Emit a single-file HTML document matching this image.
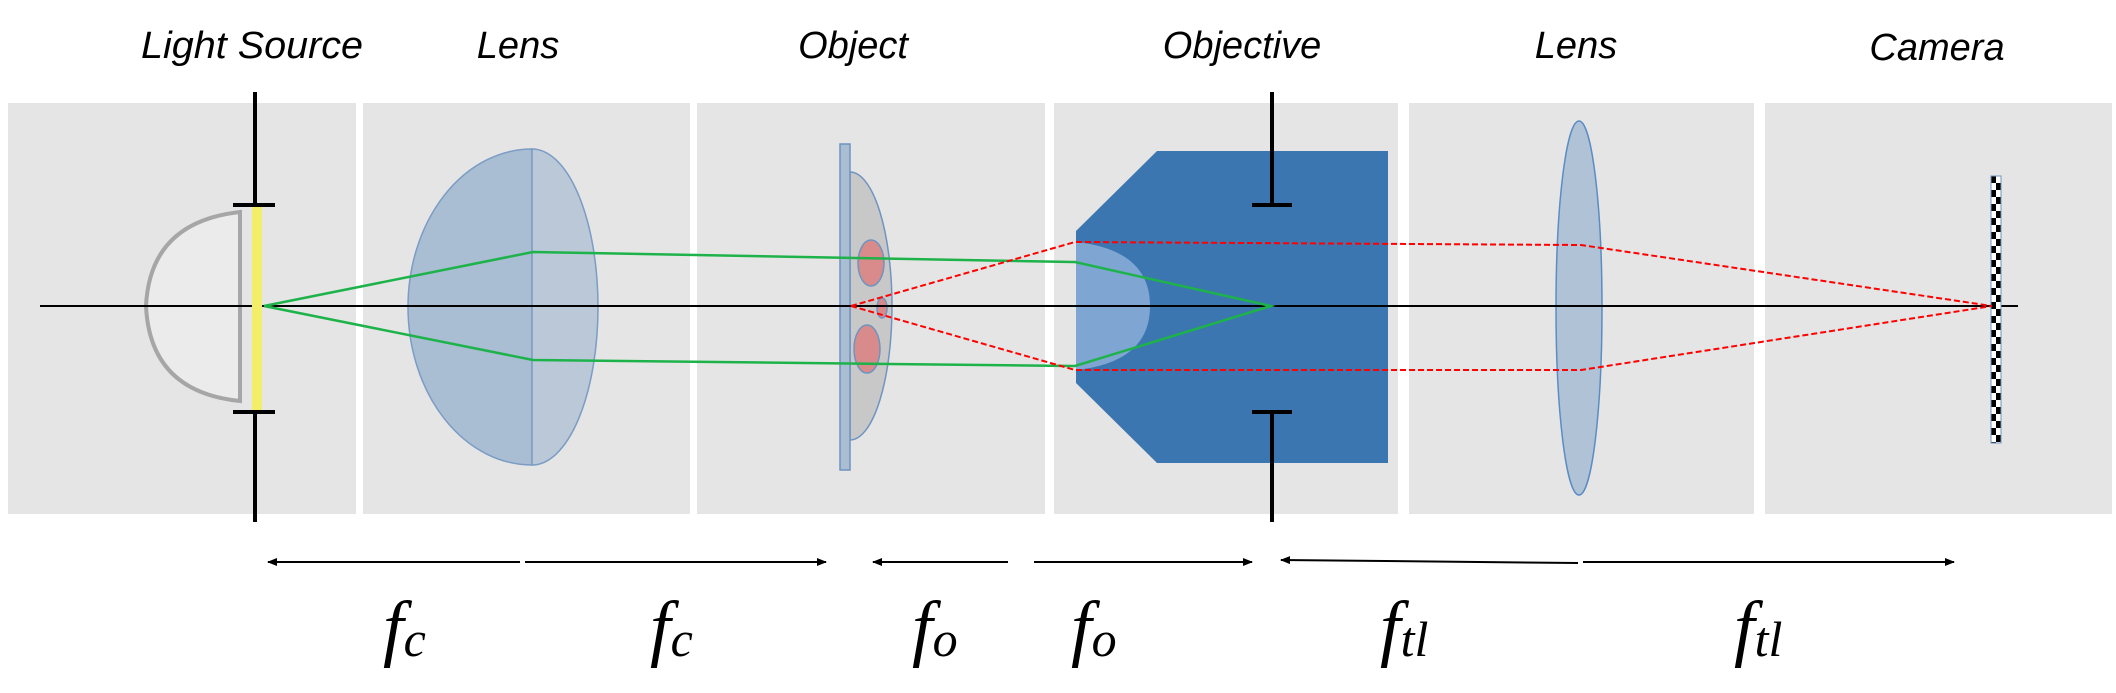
<!DOCTYPE html>
<html><head><meta charset="utf-8"><style>
html,body{margin:0;padding:0;background:#fff;}
svg{display:block;}
.t{font-family:"Liberation Sans",sans-serif;font-style:italic;font-size:38px;fill:#000;}
.m{font-family:"Liberation Serif",serif;font-style:italic;fill:#000;}
</style></head><body>
<svg width="2116" height="693" viewBox="0 0 2116 693" xmlns="http://www.w3.org/2000/svg">
<defs>
<marker id="ah" markerWidth="10" markerHeight="8" refX="9" refY="4" orient="auto" markerUnits="userSpaceOnUse">
<path d="M0,0 L10,4 L0,8 Z" fill="#000"/></marker>
<pattern id="chk" x="1991" y="176" width="10" height="14" patternUnits="userSpaceOnUse">
<rect width="10" height="14" fill="#fff"/><rect width="5" height="7" fill="#000"/><rect x="5" y="7" width="5" height="7" fill="#000"/></pattern>
</defs>
<g fill="#e5e5e5">
<rect x="8" y="103" width="348" height="411"/>
<rect x="363" y="103" width="327" height="411"/>
<rect x="697" y="103" width="348" height="411"/>
<rect x="1054" y="103" width="344" height="411"/>
<rect x="1409" y="103" width="345" height="411"/>
<rect x="1765" y="103" width="347" height="411"/>
</g>
<text class="t" x="252" y="58" text-anchor="middle" textLength="222" lengthAdjust="spacingAndGlyphs">Light Source</text>
<text class="t" x="518" y="58" text-anchor="middle">Lens</text>
<text class="t" x="853" y="58" text-anchor="middle">Object</text>
<text class="t" x="1242" y="58" text-anchor="middle">Objective</text>
<text class="t" x="1576" y="58" text-anchor="middle">Lens</text>
<text class="t" x="1937" y="60" text-anchor="middle">Camera</text>
<path d="M240,212 Q150,222 146,306 Q150,392 240,401 Z" fill="#ebebeb" stroke="#a6a6a6" stroke-width="4"/>
<path d="M532,149 A124,158 0 0 0 532,465 Z" fill="#a9bdd3" stroke="#7b9cc4" stroke-width="1.5"/>
<path d="M532,149 A66,158 0 0 1 532,465 Z" fill="#bac8d7" stroke="#7b9cc4" stroke-width="1.5"/>
<path d="M850,172 A42,134 0 0 1 850,440 Z" fill="#c8c8c8" stroke="#6f94c0" stroke-width="1.5"/>
<rect x="840" y="144" width="10" height="326" fill="#a9bdd3" stroke="#6f94c0" stroke-width="1.5"/>
<g fill="#d98a8a" stroke="#6f94c0" stroke-width="1.5">
<ellipse cx="871" cy="263" rx="13" ry="23"/>
<ellipse cx="867" cy="349" rx="13" ry="24"/>
<ellipse cx="882" cy="308" rx="5" ry="10"/>
</g>
<polygon points="1076,231 1157,151 1388,151 1388,463 1157,463 1076,383" fill="#3c76b0"/>
<path d="M1076,242 Q1150,250 1150,306 Q1150,362 1076,370 Z" fill="#7fa6d2"/>
<ellipse cx="1579" cy="308" rx="23" ry="187" fill="#b0c3d6" stroke="#5b8cc4" stroke-width="1.5"/>
<line x1="40" y1="306" x2="2018" y2="306" stroke="#000" stroke-width="2"/>
<rect x="252" y="205" width="10" height="207" fill="#f3ee6a"/>
<g stroke="#000" stroke-width="4">
<line x1="255" y1="92" x2="255" y2="205"/><line x1="233" y1="205" x2="275" y2="205"/>
<line x1="255" y1="412" x2="255" y2="522"/><line x1="233" y1="412" x2="275" y2="412"/>
<line x1="1272" y1="92" x2="1272" y2="205"/><line x1="1252" y1="205" x2="1292" y2="205"/>
<line x1="1272" y1="412" x2="1272" y2="522"/><line x1="1252" y1="412" x2="1292" y2="412"/>
</g>
<rect x="1991" y="176" width="10" height="267" fill="url(#chk)" stroke="#6f94c0" stroke-width="1"/>
<g stroke="#1db34a" stroke-width="2.5" fill="none">
<polyline points="264,306 533,252 1073,262 1075,262 1271,306 1075,366 1073,366 533,360 264,306"/>
</g>
<g stroke="#ff0000" stroke-width="2" fill="none" stroke-dasharray="6,3">
<polyline points="851,306 1075,242 1581,245 1992,306"/>
<polyline points="851,306 1075,370 1581,370 1992,306"/>
</g>
<g stroke="#000" stroke-width="2">
<line x1="520" y1="562" x2="268" y2="562" marker-end="url(#ah)"/>
<line x1="525" y1="562" x2="826" y2="562" marker-end="url(#ah)"/>
<line x1="1008" y1="562" x2="873" y2="562" marker-end="url(#ah)"/>
<line x1="1034" y1="562" x2="1252" y2="562" marker-end="url(#ah)"/>
<line x1="1578" y1="563" x2="1281" y2="560" marker-end="url(#ah)"/>
<line x1="1583" y1="562" x2="1954" y2="562" marker-end="url(#ah)"/>
</g>
<g class="m">
<text x="383" y="652" font-size="74">f<tspan font-size="50" dy="4">c</tspan></text>
<text x="650" y="652" font-size="74">f<tspan font-size="50" dy="4">c</tspan></text>
<text x="912" y="652" font-size="74">f<tspan font-size="50" dy="4">o</tspan></text>
<text x="1071" y="652" font-size="74">f<tspan font-size="50" dy="4">o</tspan></text>
<text x="1380" y="652" font-size="74">f<tspan font-size="50" dy="4">tl</tspan></text>
<text x="1734" y="652" font-size="74">f<tspan font-size="50" dy="4">tl</tspan></text>
</g>
</svg>
</body></html>
